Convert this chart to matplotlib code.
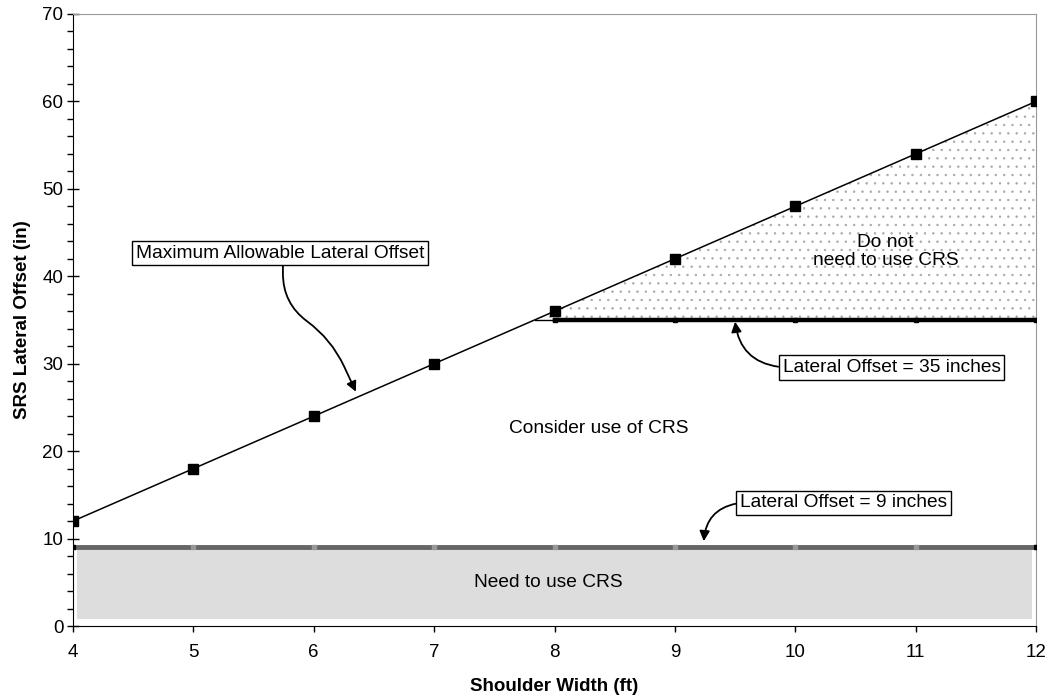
import numpy as np
import matplotlib.pyplot as plt
from matplotlib.ticker import MultipleLocator

plt.rcParams['font.family'] = ['Liberation Sans', 'DejaVu Sans']
plt.rcParams['hatch.color'] = '#a8a8a8'
plt.rcParams['hatch.linewidth'] = 0.5

shoulder_width = [4, 5, 6, 7, 8, 9, 10, 11, 12]
max_offset = [12, 18, 24, 30, 36, 42, 48, 54, 60]
offset_35 = [35, 35, 35, 35, 35]        # for shoulder widths 8..12
offset_9 = [9, 9, 9, 9, 9, 9, 9, 9, 9]
x_start_35 = 7.84

fig, ax = plt.subplots(figsize=(10.5, 7), dpi=100)
fig.subplots_adjust(left=0.0695, right=0.9867, top=0.98, bottom=0.1057)

sw = np.array(shoulder_width, dtype=float)
mo = np.array(max_offset, dtype=float)
sw35 = sw[sw >= 8]

# dotted region between 35 in and the max-offset line
xf = np.concatenate([[x_start_35], sw35])
yf = np.concatenate([[offset_35[0]], mo[sw >= 8]])
ax.fill_between(xf, offset_35[0], yf, facecolor='white', edgecolor='#a8a8a8',
                hatch='..', linewidth=0, zorder=1)

# gray region below 9 in
ax.fill_between([4.03, 11.97], 0.8, offset_9[0], color='#dddddd', linewidth=0, zorder=1)

ax.plot(sw, mo, color='black', lw=1.1, marker='s', ms=7, zorder=4)
ax.plot([x_start_35, 8], [offset_35[0], offset_35[0]], color='black', lw=1, zorder=3)
ax.plot(sw35, offset_35, color='black', lw=3.2, marker='s', ms=3, zorder=3)
ax.plot(sw, offset_9, color='#666666', lw=3.5, marker='s', ms=3,
        mfc='#999999', mec='#999999', zorder=3)
ax.plot([sw[0], sw[-1]], [offset_9[0], offset_9[-1]], ls='none', marker='s', ms=3.5,
        color='black', zorder=4)

ax.set_xlim(4, 12)
ax.set_ylim(0, 70)
ax.xaxis.set_major_locator(MultipleLocator(1))
ax.yaxis.set_major_locator(MultipleLocator(10))
ax.yaxis.set_minor_locator(MultipleLocator(2))
ax.tick_params(axis='both', labelsize=13.5, direction='out', length=4, width=1)
ax.tick_params(axis='x', pad=9)
ax.tick_params(axis='y', which='major', direction='inout', length=8, pad=3)
ax.tick_params(axis='y', which='minor', length=4.3, width=1)
for s in ('top', 'right'):
    ax.spines[s].set_color('#999999')
ax.set_xlabel('Shoulder Width (ft)', fontsize=13.5, fontweight='bold', labelpad=12)
ax.set_ylabel('SRS Lateral Offset (in)', fontsize=13.5, fontweight='bold', labelpad=8)

ax.text(8.37, 22.6, 'Consider use of CRS', fontsize=13.8, ha='center', va='center')
ax.text(7.95, 5.0, 'Need to use CRS', fontsize=13.8, ha='center', va='center')
ax.text(10.75, 42.8, 'Do not\nneed to use CRS', fontsize=13.8, ha='center', va='center',
        linespacing=1.1)

box = dict(boxstyle='square,pad=0.2', fc='white', ec='black', lw=1)
arrow = dict(arrowstyle='-|>', color='black', lw=1.3, mutation_scale=15)

ax.annotate('Maximum Allowable Lateral Offset', xy=(6.35, 26.8), xytext=(5.72, 42.66),
            fontsize=13.8, ha='center', va='center', bbox=box,
            arrowprops=dict(arrow,
                            connectionstyle='arc,angleA=-90,armA=42,angleB=115,armB=58,rad=30',
                            relpos=(0.51, 0), shrinkA=0, shrinkB=0))
ax.annotate('Lateral Offset = 35 inches', xy=(9.5, 34.8), xytext=(10.80, 29.6),
            fontsize=13.8, ha='center', va='center', bbox=box,
            arrowprops=dict(arrow, connectionstyle='arc3,rad=-0.4', relpos=(0, 0.5),
                            shrinkA=0, shrinkB=0))
ax.annotate('Lateral Offset = 9 inches', xy=(9.24, 9.7), xytext=(10.40, 14.07),
            fontsize=13.8, ha='center', va='center', bbox=box,
            arrowprops=dict(arrow, connectionstyle='arc3,rad=0.4', relpos=(0, 0.5),
                            shrinkA=0, shrinkB=0))

fig.savefig('out.png', dpi=100)
